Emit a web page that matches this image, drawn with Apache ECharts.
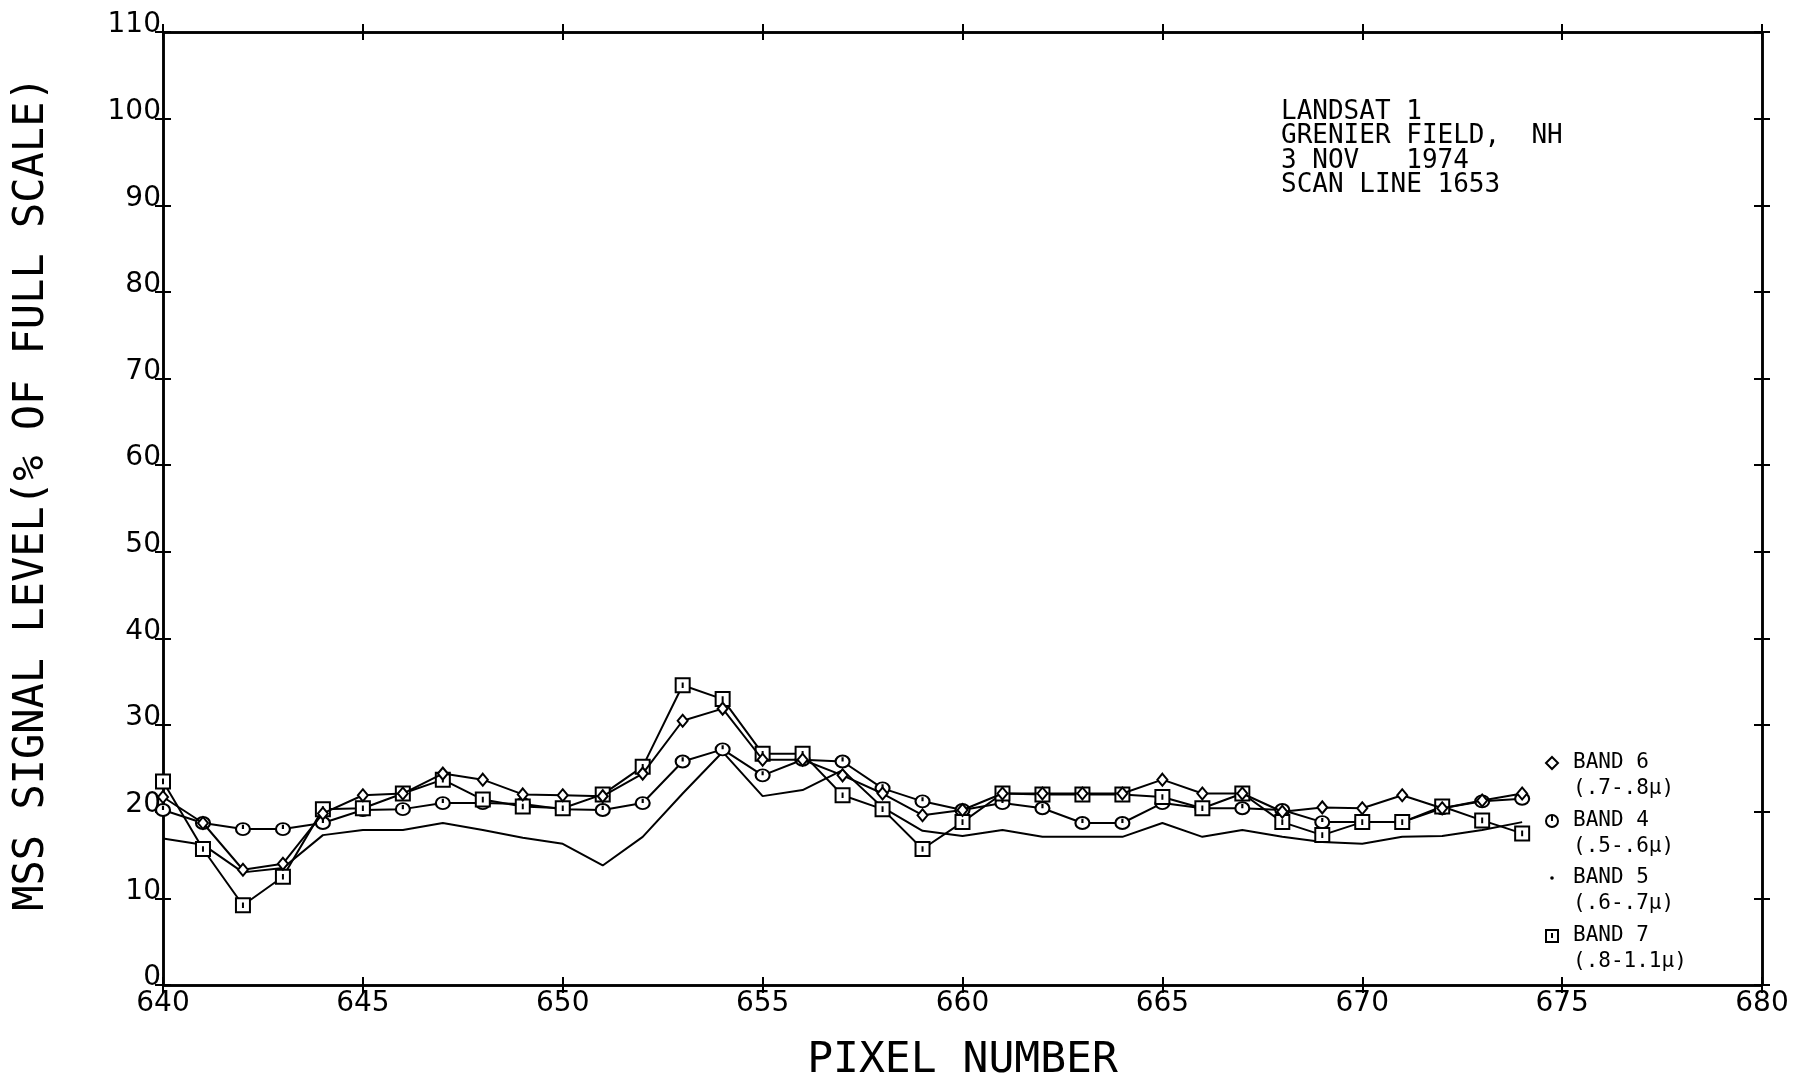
<!DOCTYPE html>
<html>
<head>
<meta charset="utf-8">
<script src="https://cdn.jsdelivr.net/npm/echarts@6/dist/echarts.min.js"></script>
<style>
  html, body { margin: 0; padding: 0; background: #fff; }
  #chart { width: 1796px; height: 1077px; }
</style>
</head>
<body>
<div id="chart"></div>
<script>
// Pixel positions along scan line 1653
const pixels = [640, 641, 642, 643, 644, 645, 646, 647, 648, 649,
                650, 651, 652, 653, 654, 655, 656, 657, 658, 659,
                660, 661, 662, 663, 664, 665, 666, 667, 668, 669,
                670, 671, 672, 673, 674];

// MSS signal level, % of full scale
const band6 = [21.7, 18.7, 13.3, 14.0, 19.8, 21.9, 22.1, 24.4, 23.7, 22.0,
               21.9, 21.8, 24.4, 30.5, 31.9, 26.0, 26.0, 24.2, 22.1, 19.6,
               20.2, 22.1, 22.1, 22.1, 22.1, 23.7, 22.1, 22.1, 20.0, 20.5,
               20.4, 21.9, 20.4, 21.3, 22.1];
const band4 = [20.2, 18.7, 18.0, 18.0, 18.7, 20.2, 20.3, 21.0, 21.0, 20.9,
               20.3, 20.2, 21.0, 25.8, 27.2, 24.2, 26.0, 25.8, 22.7, 21.2,
               20.2, 21.0, 20.4, 18.7, 18.7, 21.0, 20.4, 20.4, 20.2, 18.8,
               18.8, 18.8, 20.4, 21.2, 21.5];
const band5 = [16.9, 16.2, 13.0, 13.5, 17.3, 17.9, 17.9, 18.7, 17.9, 17.0,
               16.3, 13.8, 17.1, 22.1, 26.9, 21.8, 22.5, 24.8, 20.5, 17.8,
               17.2, 17.9, 17.1, 17.1, 17.1, 18.7, 17.1, 17.9, 17.1, 16.5,
               16.3, 17.1, 17.2, 17.9, 18.8];
const band7 = [23.5, 15.7, 9.2, 12.5, 20.3, 20.4, 22.1, 23.7, 21.4, 20.6,
               20.4, 22.0, 25.2, 34.6, 33.0, 26.7, 26.7, 21.9, 20.3, 15.7,
               18.8, 22.1, 22.0, 22.0, 22.0, 21.7, 20.4, 22.1, 18.8, 17.3,
               18.8, 18.8, 20.6, 19.0, 17.5];

// Axis ranges and tick steps
const xRange = [640, 680];
const xStep = 5;
const yRange = [0, 110];
const yStep = 10;

// Text content
const bandNames = ['BAND 6', 'BAND 4', 'BAND 5', 'BAND 7'];
const bandRanges = ['(.7-.8µ)', '(.5-.6µ)', '(.6-.7µ)', '(.8-1.1µ)'];
const infoLines = ['LANDSAT 1', 'GRENIER FIELD,  NH', '3 NOV   1974', 'SCAN LINE 1653'];
const xTitle = 'PIXEL NUMBER';
const yTitle = 'MSS SIGNAL LEVEL(% OF FULL SCALE)';

const INK = '#000';
const pairs = (ys) => pixels.map((p, i) => [p, ys[i]]);

// plotter-style symbols
const circleTick = 'path://M0 10A10 10 0 1 1 20 10A10 10 0 1 1 0 10ZM10 10V3';
const squareTick = 'path://M0 0H20V20H0ZM10 14V6';

const tickFont = { color: INK, fontFamily: 'DejaVu Sans', fontSize: 28 };

function xAxisDef(position, inside, withLabels) {
  return {
    type: 'value', position, min: xRange[0], max: xRange[1], interval: xStep,
    axisLine: { show: true, onZero: false, lineStyle: { color: INK, width: 2.5 } },
    axisTick: { show: true, inside, length: 8, lineStyle: { color: INK, width: 2 } },
    axisLabel: withLabels ? Object.assign({ margin: 5 }, tickFont) : { show: false },
    splitLine: { show: false },
    name: withLabels ? xTitle : '',
    nameLocation: 'middle',
    nameGap: 54,
    nameTextStyle: { color: INK, fontFamily: 'DejaVu Sans Mono', fontSize: 43 }
  };
}
function yAxisDef(position, inside, withLabels) {
  return {
    type: 'value', position, min: yRange[0], max: yRange[1], interval: yStep,
    axisLine: { show: true, onZero: false, lineStyle: { color: INK, width: 2.5 } },
    axisTick: { show: true, inside, length: 8, lineStyle: { color: INK, width: 2 } },
    axisLabel: withLabels
      ? Object.assign({ margin: 2, verticalAlign: 'bottom', lineHeight: 14 }, tickFont)
      : { show: false },
    splitLine: { show: false },
    name: withLabels ? yTitle : '',
    nameLocation: 'middle',
    nameRotate: 90,
    nameGap: 110,
    nameTextStyle: { color: INK, fontFamily: 'DejaVu Sans Mono', fontSize: 42, padding: [0, 0, 0, 30] }
  };
}

const hollow = { color: '#fff', borderColor: INK, borderWidth: 2 };
const line = { color: INK, width: 2 };

const legendX = 1552, textX = 1573;
const rowY = [763, 821, 878, 936];
const rowGap = 26;
const graphic = [];
infoLines.forEach((t, i) => graphic.push({
  type: 'text', x: 1281, y: 112 + i * 24.5,
  style: { text: t, fill: INK, font: '26px "DejaVu Sans Mono"', verticalAlign: 'middle' }
}));
bandNames.forEach((n, i) => {
  graphic.push({ type: 'text', x: textX, y: rowY[i],
    style: { text: n, fill: INK, font: '21px "DejaVu Sans Mono"', verticalAlign: 'middle' } });
  graphic.push({ type: 'text', x: textX, y: rowY[i] + rowGap,
    style: { text: bandRanges[i], fill: INK, font: '21px "DejaVu Sans Mono"', verticalAlign: 'middle' } });
});
// legend keys
graphic.push({ type: 'polygon', shape: { points: [[legendX, rowY[0] - 6], [legendX + 6, rowY[0]], [legendX, rowY[0] + 6], [legendX - 6, rowY[0]]] },
  style: { fill: '#fff', stroke: INK, lineWidth: 2 } });
graphic.push({ type: 'circle', shape: { cx: legendX, cy: rowY[1], r: 6 }, style: { fill: '#fff', stroke: INK, lineWidth: 2 } });
graphic.push({ type: 'line', shape: { x1: legendX, y1: rowY[1], x2: legendX, y2: rowY[1] - 5 }, style: { stroke: INK, lineWidth: 2 } });
graphic.push({ type: 'circle', shape: { cx: legendX, cy: rowY[2], r: 1.8 }, style: { fill: INK } });
graphic.push({ type: 'rect', shape: { x: legendX - 6, y: rowY[3] - 6, width: 12, height: 12 }, style: { fill: '#fff', stroke: INK, lineWidth: 2 } });
graphic.push({ type: 'line', shape: { x1: legendX, y1: rowY[3] + 2, x2: legendX, y2: rowY[3] - 3 }, style: { stroke: INK, lineWidth: 2 } });

const chart = echarts.init(document.getElementById('chart'), null, { renderer: 'canvas' });
chart.setOption({
  backgroundColor: '#fff',
  animation: false,
  grid: { left: 163, right: 34, top: 32, bottom: 92, containLabel: false, outerBoundsMode: 'none' },
  xAxis: [
    xAxisDef('bottom', false, true),
    xAxisDef('bottom', true, false),
    xAxisDef('top', true, false),
    xAxisDef('top', false, false)
  ],
  yAxis: [
    yAxisDef('left', false, true),
    yAxisDef('left', true, false),
    yAxisDef('right', true, false),
    yAxisDef('right', false, false)
  ],
  series: [
    { name: bandNames[2], type: 'line', data: pairs(band5), symbol: 'none',
      lineStyle: line, itemStyle: { color: INK }, z: 2 },
    { name: bandNames[1], type: 'line', data: pairs(band4), symbol: circleTick, symbolSize: [14, 12],
      lineStyle: line, itemStyle: hollow, z: 3 },
    { name: bandNames[3], type: 'line', data: pairs(band7), symbol: squareTick, symbolSize: 14,
      lineStyle: line, itemStyle: hollow, z: 4 },
    { name: bandNames[0], type: 'line', data: pairs(band6), symbol: 'diamond', symbolSize: [10, 12],
      lineStyle: line, itemStyle: hollow, z: 5 }
  ],
  graphic
});
</script>
</body>
</html>
